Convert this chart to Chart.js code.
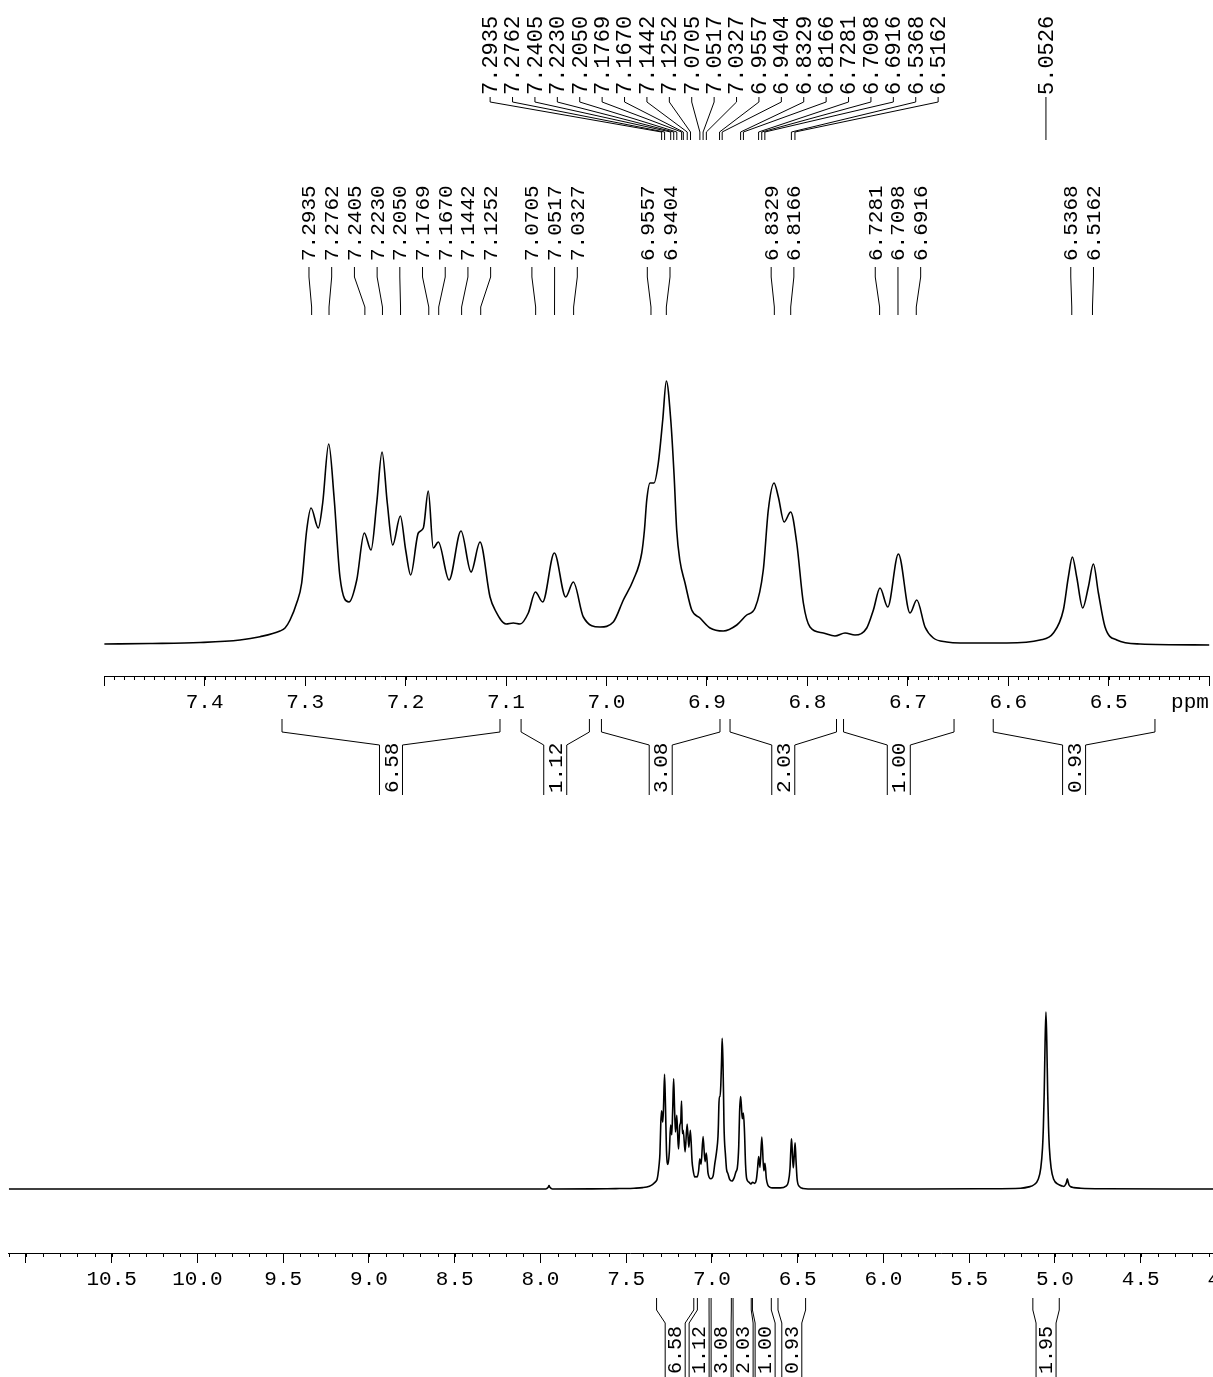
<!DOCTYPE html>
<html>
<head>
<meta charset="utf-8">
<script src="https://cdn.jsdelivr.net/npm/chart.js@4.4.1/dist/chart.umd.min.js"></script>
<style>
  html, body { margin: 0; padding: 0; background: #fff; }
  #page { position: relative; width: 1213px; height: 1377px; overflow: hidden; background: #fff; }
  #page canvas { position: absolute; left: 0; top: 0; }
</style>
</head>
<body>
<div id="page">
  <canvas id="fullChart" width="1260" height="1377" style="width:1260px;height:1377px"></canvas>
  <canvas id="insetChart" width="1213" height="830" style="width:1213px;height:830px"></canvas>
</div>
<script>
// trace of the expanded region (ppm, intensity)
const insetPpm = [
  7.5000, 7.4544, 7.4046, 7.3648, 7.3449, 7.3250, 7.3200, 7.3150, 7.3084, 7.3034,
  7.2984, 7.2941, 7.2869, 7.2825, 7.2765, 7.2712, 7.2653, 7.2563, 7.2486, 7.2411,
  7.2344, 7.2287, 7.2234, 7.2182, 7.2128, 7.2052, 7.1999, 7.1949, 7.1873, 7.1823,
  7.1774, 7.1724, 7.1674, 7.1567, 7.1448, 7.1348, 7.1259, 7.1159, 7.1109, 7.1000,
  7.0927, 7.0861, 7.0778, 7.0708, 7.0635, 7.0519, 7.0406, 7.0330, 7.0230, 7.0064,
  6.9932, 6.9832, 6.9733, 6.9649, 6.9622, 6.9599, 6.9566, 6.9527, 6.9484, 6.9440,
  6.9404, 6.9360, 6.9327, 6.9301, 6.9270, 6.9218, 6.9151, 6.9069, 6.8969, 6.8837,
  6.8703, 6.8604, 6.8521, 6.8439, 6.8389, 6.8332, 6.8289, 6.8232, 6.8166, 6.8106,
  6.8040, 6.7974, 6.7841, 6.7725, 6.7625, 6.7526, 6.7409, 6.7343, 6.7277, 6.7200,
  6.7094, 6.6978, 6.6911, 6.6829, 6.6746, 6.6613, 6.6480, 6.6015, 6.5684, 6.5551,
  6.5452, 6.5402, 6.5362, 6.5319, 6.5259, 6.5203, 6.5153, 6.5103, 6.5037, 6.4920,
  6.4688, 6.3992
];
const insetIntensity = [
  1, 1.5, 2.5, 5, 8.3, 14, 17, 25, 42, 62,
  115, 137, 117, 142, 201, 148, 68, 43, 65, 112,
  95, 142, 193, 142, 100, 129, 95, 70, 112, 117,
  154, 97, 103, 65, 114, 73, 103, 48, 35, 21,
  22, 21, 32, 53, 43, 92, 48, 63, 28, 18,
  23, 45, 65, 92, 115, 145, 162, 162, 182, 225,
  264, 225, 170, 115, 85, 62, 35, 27, 17, 14,
  20, 30, 37, 75, 135, 162, 148, 123, 133, 102,
  42, 18, 12, 9, 12, 10, 17, 35, 57, 38,
  91, 32, 45, 18, 7, 3, 2, 2, 5, 12,
  35, 68, 88, 68, 37, 58, 81, 52, 18, 5,
  1, 0
];

// rest of the full spectrum, left and right of the expanded region
const lowFieldPpm = [11.1, 9.6, 8.3, 7.97, 7.955, 7.95, 7.945, 7.93, 7.7, 7.56];
const lowFieldIntensity = [0, 0, 0, 0, 3, 6, 3, 0, 0.3, 0.8];
const highFieldPpm = [
  6.2, 5.8, 5.4, 5.2, 5.1526, 5.1226, 5.0976, 5.0826, 5.0726, 5.0676,
  5.0626, 5.0576, 5.0526, 5.0476, 5.0426, 5.0376, 5.0326, 5.0226, 5.0076, 4.98,
  4.96, 4.948, 4.938, 4.933, 4.928, 4.923, 4.918, 4.908, 4.89, 4.85,
  4.7, 4.3, 3.85
];
const highFieldIntensity = [
  0, 0, 0.5, 1.5, 3.8, 7.5, 17, 37, 72, 109,
  170, 257, 310, 257, 170, 109, 72, 37, 17, 8,
  5.5, 4.5, 8, 12, 18, 12, 7, 4, 2.5, 1.5,
  0.5, 0, 0
];

const insetPeaks = [
  7.2935, 7.2762, 7.2405, 7.2230, 7.2050, 7.1769, 7.1670, 7.1442, 7.1252,
  7.0705, 7.0517, 7.0327, 6.9557, 6.9404, 6.8329, 6.8166,
  6.7281, 6.7098, 6.6916, 6.5368, 6.5162
];
const fullPeaks = insetPeaks.concat([5.0526]);

const integralFrom = [7.323, 7.085, 7.005, 6.877, 6.764, 6.615];
const integralTo = [7.106, 7.017, 6.887, 6.771, 6.654, 6.454];
const integralValues = ['6.58', '1.12', '3.08', '2.03', '1.00', '0.93'];
const fullIntegralFrom = integralFrom.concat([5.129]);
const fullIntegralTo = integralTo.concat([4.975]);
const fullIntegralValues = integralValues.concat(['1.95']);

const insetTicks = [7.5, 7.4, 7.3, 7.2, 7.1, 7.0, 6.9, 6.8, 6.7, 6.6, 6.5, 6.4];
const insetTickLabels = ['', '7.4', '7.3', '7.2', '7.1', '7.0', '6.9', '6.8', '6.7', '6.6', '6.5', ''];
const fullTicks = [11.0, 10.5, 10.0, 9.5, 9.0, 8.5, 8.0, 7.5, 7.0, 6.5, 6.0, 5.5, 5.0, 4.5, 4.0];
const fullTickLabels = ['', '10.5', '10.0', '9.5', '9.0', '8.5', '8.0', '7.5', '7.0', '6.5', '6.0', '5.5', '5.0', '4.5', '4.0'];

const FONT = '"Liberation Mono", "Courier New", monospace';

function toPoints(ppm, vals) {
  return ppm.map((p, i) => ({ x: p, y: vals[i] }));
}

function labelFor(values, labels, v) {
  const i = values.findIndex(t => Math.abs(t - v) < 1e-6);
  return i < 0 ? '' : labels[i];
}

// push overlapping labels apart, each group centred on its own marks
function spread(xs, gap) {
  let groups = xs.map(x => ({ sum: x, n: 1 }));
  let merged = true;
  while (merged) {
    merged = false;
    for (let i = 0; i < groups.length - 1; i++) {
      const a = groups[i], b = groups[i + 1];
      const aEnd = a.sum / a.n + (a.n - 1) * gap / 2;
      const bStart = b.sum / b.n - (b.n - 1) * gap / 2;
      if (bStart - aEnd < gap) {
        groups.splice(i, 2, { sum: a.sum + b.sum, n: a.n + b.n });
        merged = true;
        break;
      }
    }
  }
  const out = [];
  groups.forEach(g => {
    const c = g.sum / g.n;
    for (let k = 0; k < g.n; k++) out.push(c + (k - (g.n - 1) / 2) * gap);
  });
  return out;
}

function vText(ctx, text, x, y, size) {
  ctx.save();
  ctx.translate(x, y);
  ctx.rotate(-Math.PI / 2);
  ctx.textAlign = 'left';
  ctx.textBaseline = 'alphabetic';
  ctx.fillText(text, 0, size * 0.31);
  ctx.restore();
}

function peakLabels(peaks, cfg) {
  return {
    id: 'peakLabels',
    afterDraw(chart) {
      const ctx = chart.ctx, xs = chart.scales.x;
      const px = peaks.map(p => xs.getPixelForValue(p));
      const lx = spread(px, cfg.gap);
      ctx.save();
      ctx.strokeStyle = '#000';
      ctx.fillStyle = '#000';
      ctx.lineWidth = 1;
      ctx.font = cfg.size + 'px ' + FONT;
      peaks.forEach((p, i) => {
        ctx.beginPath();
        ctx.moveTo(lx[i], cfg.y[0]);
        ctx.lineTo(lx[i], cfg.y[1]);
        ctx.lineTo(px[i], cfg.y[2]);
        ctx.lineTo(px[i], cfg.y[3]);
        ctx.stroke();
        vText(ctx, p.toFixed(4), lx[i], cfg.textY, cfg.size);
      });
      ctx.restore();
    }
  };
}

function integrals(from, to, values, cfg) {
  return {
    id: 'integrals',
    afterDraw(chart) {
      const ctx = chart.ctx, xs = chart.scales.x;
      const x1 = from.map(v => xs.getPixelForValue(v));
      const x2 = to.map(v => xs.getPixelForValue(v));
      const centres = spread(x1.map((a, i) => (a + x2[i]) / 2), cfg.gap);
      const h = cfg.width / 2;
      ctx.save();
      ctx.strokeStyle = '#000';
      ctx.fillStyle = '#000';
      ctx.lineWidth = 1;
      ctx.font = cfg.size + 'px ' + FONT;
      values.forEach((txt, i) => {
        const c = centres[i];
        ctx.beginPath();
        ctx.moveTo(x1[i], cfg.top);
        ctx.lineTo(x1[i], cfg.knee);
        ctx.lineTo(c - h, cfg.boxTop);
        ctx.lineTo(c - h, cfg.boxBottom);
        ctx.moveTo(x2[i], cfg.top);
        ctx.lineTo(x2[i], cfg.knee);
        ctx.lineTo(c + h, cfg.boxTop);
        ctx.lineTo(c + h, cfg.boxBottom);
        ctx.stroke();
        vText(ctx, txt, c, cfg.textY, cfg.size);
      });
      ctx.restore();
    }
  };
}

function minorTicks(step, len) {
  return {
    id: 'minorTicks',
    afterDraw(chart) {
      const s = chart.scales.x, ctx = chart.ctx;
      const n0 = Math.ceil(s.min / step - 1e-6), n1 = Math.floor(s.max / step + 1e-6);
      ctx.save();
      ctx.strokeStyle = '#000';
      ctx.lineWidth = 1;
      ctx.beginPath();
      for (let n = n0; n <= n1; n++) {
        const x = Math.round(s.getPixelForValue(n * step)) + 0.5;
        ctx.moveTo(x, s.top);
        ctx.lineTo(x, s.top + len);
      }
      ctx.stroke();
      ctx.restore();
    }
  };
}

const ppmUnit = {
  id: 'ppmUnit',
  afterDraw(chart) {
    const ctx = chart.ctx;
    ctx.save();
    ctx.fillStyle = '#000';
    ctx.font = '21px ' + FONT;
    ctx.textAlign = 'center';
    ctx.textBaseline = 'middle';
    ctx.fillText('ppm', 1190, chart.scales.x.top + 26.6);
    ctx.restore();
  }
};

function xAxis(min, max, ticks, labels, height) {
  return {
    type: 'linear',
    reverse: true,
    min: min,
    max: max,
    afterBuildTicks: s => { s.ticks = ticks.map(v => ({ value: v })); },
    afterFit: s => { s.height = height; s.paddingLeft = 0; s.paddingRight = 0; },
    border: { display: true, color: '#000', width: 1 },
    grid: { drawOnChartArea: false, drawTicks: true, tickLength: 10, tickColor: '#000', tickWidth: 1 },
    ticks: {
      autoSkip: false, maxRotation: 0, minRotation: 0, padding: 4,
      color: '#000', font: { family: FONT, size: 21 },
      callback: v => labelFor(ticks, labels, v)
    }
  };
}

function lineData(points) {
  return {
    datasets: [{
      data: points,
      borderColor: '#000',
      borderWidth: 1.6,
      pointRadius: 0,
      fill: false,
      cubicInterpolationMode: 'monotone'
    }]
  };
}

const common = {
  responsive: false,
  animation: false,
  devicePixelRatio: 1,
  events: [],
  plugins: { legend: { display: false }, tooltip: { enabled: false } }
};

// full spectrum, drawn at the bottom; its peak list sits at the very top of the page
new Chart(document.getElementById('fullChart'), {
  type: 'line',
  data: lineData(toPoints(
    lowFieldPpm.concat(insetPpm, highFieldPpm),
    lowFieldIntensity.concat(insetIntensity, highFieldIntensity)
  )),
  options: Object.assign({}, common, {
    layout: { autoPadding: false, padding: { left: 8.8, right: 7.8, top: 1000, bottom: 0 } },
    scales: {
      x: xAxis(3.85, 11.1, fullTicks, fullTickLabels, 124),
      y: { display: false, min: -112, max: 331 }
    }
  }),
  plugins: [
    minorTicks(0.1, 4),
    peakLabels(fullPeaks, { gap: 22.4, size: 22, textY: 95, y: [97, 102, 132, 140] }),
    integrals(fullIntegralFrom, fullIntegralTo, fullIntegralValues,
      { gap: 22, width: 20, size: 20, top: 1298, knee: 1310, boxTop: 1323, boxBottom: 1390, textY: 1374 })
  ]
});

// expanded 6.4 - 7.5 ppm region
new Chart(document.getElementById('insetChart'), {
  type: 'line',
  data: lineData(toPoints(insetPpm, insetIntensity)),
  options: Object.assign({}, common, {
    layout: { autoPadding: false, padding: { left: 104.2, right: 3.8, top: 330, bottom: 0 } },
    scales: {
      x: xAxis(6.4, 7.5, insetTicks, insetTickLabels, 154),
      y: { display: false, min: -31, max: 315 }
    }
  }),
  plugins: [
    minorTicks(0.01, 4),
    ppmUnit,
    peakLabels(insetPeaks, { gap: 22.7, size: 21, textY: 261, y: [267, 277, 307, 315] }),
    integrals(integralFrom, integralTo, integralValues,
      { gap: 25, width: 23, size: 21, top: 719, knee: 732, boxTop: 745, boxBottom: 795, textY: 793 })
  ]
});
</script>
</body>
</html>
